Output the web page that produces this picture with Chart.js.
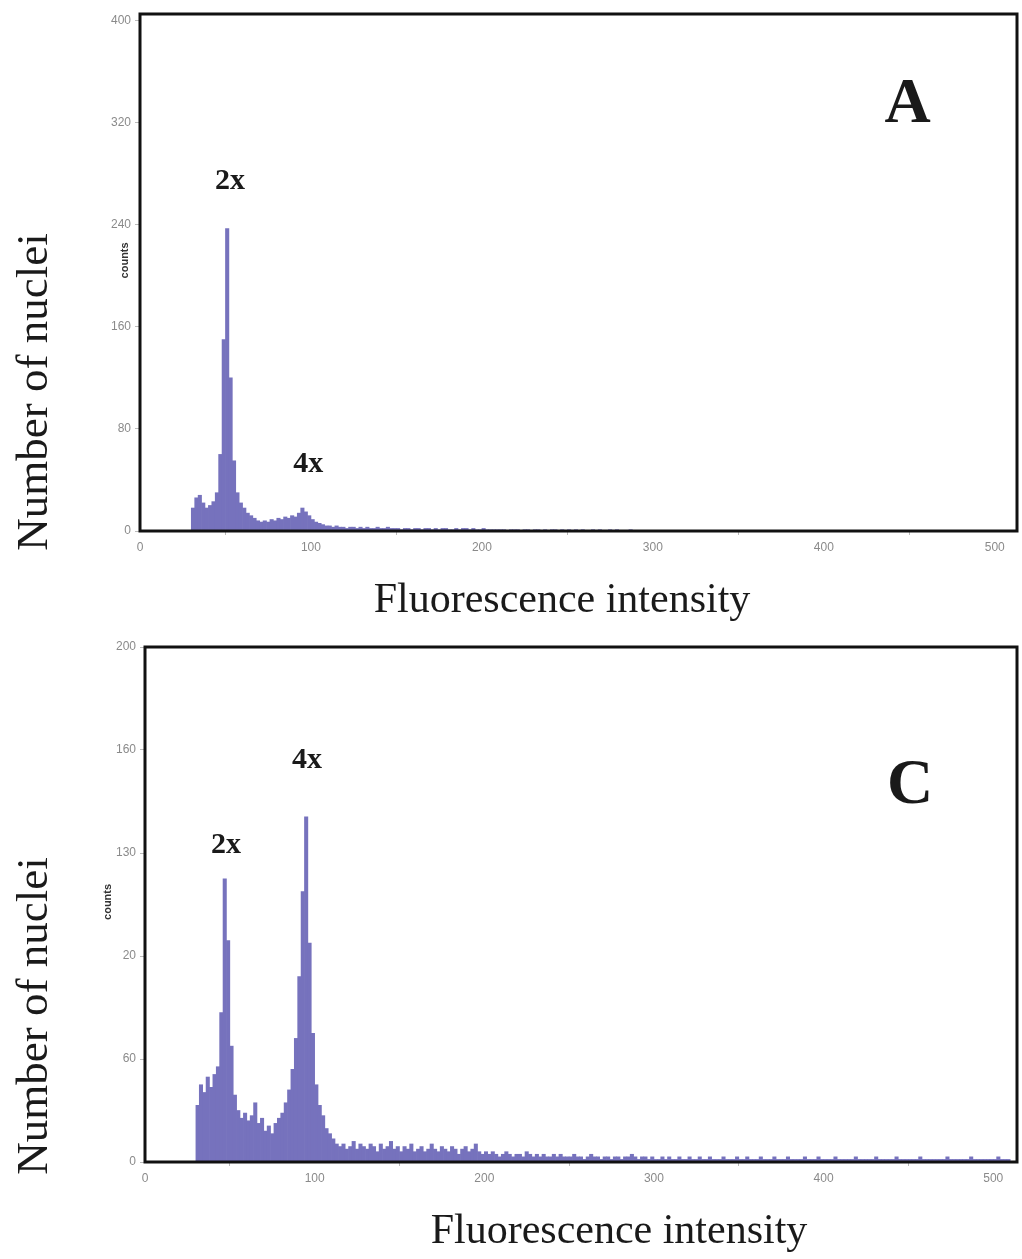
<!DOCTYPE html>
<html>
<head>
<meta charset="utf-8">
<script src="https://cdn.jsdelivr.net/npm/chart.js@4/dist/chart.umd.min.js"></script>
<style>
  body { margin: 0; background: #fff; }
  #wrap { position: relative; width: 1022px; height: 1259px; }
  canvas { position: absolute; left: 0; }
  #graficaA { top: 0; }
  #graficaC { top: 620px; }
</style>
</head>
<body>
<div id="wrap">
  <canvas id="graficaA" width="1022" height="625"></canvas>
  <canvas id="graficaC" width="1022" height="639"></canvas>
</div>
<script>
// canales del histograma: empiezan en 30, cada barra = 2 unidades de fluorescencia
const inicioCanal = 30;
const anchoCanal = 2;

// Panel A (conteos por canal)
const conteosA = [
  18, 26, 28, 22, 18, 20, 23, 30, 60, 150,
  237, 120, 55, 30, 22, 18, 14, 12, 10, 8,
  7, 8, 7, 9, 8, 10, 9, 11, 10, 12,
  11, 14, 18, 15, 12, 9, 7, 6, 5, 4,
  4, 3, 4, 3, 3, 2, 3, 3, 2, 3,
  2, 3, 2, 2, 3, 2, 2, 3, 2, 2,
  2, 1, 2, 2, 1, 2, 2, 1, 2, 2,
  1, 2, 1, 2, 2, 1, 1, 2, 1, 2,
  2, 1, 2, 1, 1, 2, 1, 1, 1, 1,
  1, 1, 0, 1, 1, 1, 0, 1, 1, 0,
  1, 1, 0, 1, 0, 1, 1, 0, 1, 0,
  1, 0, 1, 0, 1, 0, 0, 1, 0, 1,
  0, 0, 1, 0, 1, 0, 0, 0, 1, 0
];

// Panel C
const conteosC = [
  22, 30, 27, 33, 29, 34, 37, 58, 110, 86,
  45, 26, 20, 17, 19, 16, 18, 23, 15, 17,
  12, 14, 11, 15, 17, 19, 23, 28, 36, 48,
  72, 105, 134, 85, 50, 30, 22, 18, 13, 11,
  9, 7, 6, 7, 5, 6, 8, 5, 7, 6,
  5, 7, 6, 4, 7, 5, 6, 8, 5, 6,
  4, 6, 5, 7, 4, 5, 6, 4, 5, 7,
  5, 4, 6, 5, 4, 6, 5, 3, 5, 6,
  4, 5, 7, 4, 3, 4, 3, 4, 3, 2,
  3, 4, 3, 2, 3, 3, 2, 4, 3, 2,
  3, 2, 3, 2, 2, 3, 2, 3, 2, 2,
  2, 3, 2, 2, 1, 2, 3, 2, 2, 1,
  2, 2, 1, 2, 2, 1, 2, 2, 3, 2,
  1, 2, 2, 1, 2, 1, 1, 2, 1, 2,
  1, 1, 2, 1, 1, 2, 1, 1, 2, 1,
  1, 2, 1, 1, 1, 2, 1, 1, 1, 2,
  1, 1, 2, 1, 1, 1, 2, 1, 1, 1,
  2, 1, 1, 1, 2, 1, 1, 1, 1, 2,
  1, 1, 1, 2, 1, 1, 1, 1, 2, 1,
  1, 1, 1, 1, 2, 1, 1, 1, 1, 1,
  2, 1, 1, 1, 1, 1, 2, 1, 1, 1,
  1, 1, 1, 2, 1, 1, 1, 1, 1, 1,
  1, 2, 1, 1, 1, 1, 1, 1, 2, 1,
  1, 1, 1, 1, 1, 1, 2, 1, 1, 1
];

// ticks
const ticksX = [0, 100, 200, 300, 400, 500];
const ticksYA = [0, 80, 160, 240, 320, 400];
const ticksYC = [0, 40, 80, 120, 160, 200];
const etiquetasYC = ['0', '60', '20', '130', '160', '200']; // asi aparecen en la figura

const colorBarra = '#7672bd';
const grisTicks = '#8a8a8a';
const serif = '"Liberation Serif", "DejaVu Serif", serif';

function aPuntos(conteos) {
    return conteos.map((v, i) => ({ x: inicioCanal + anchoCanal * i + anchoCanal / 2, y: v }));
}

// marco negro + textos (2x, 4x, letra, titulos)
const marcoYTextos = {
    id: 'marcoYTextos',
    afterDatasetsDraw(chart, args, opts) {
        const { ctx, chartArea: ca, scales: { x, y } } = chart;
        ctx.save();
        ctx.lineWidth = 3;
        ctx.strokeStyle = '#111';
        ctx.strokeRect(ca.left, ca.top, ca.right - ca.left, ca.bottom - ca.top);

        ctx.fillStyle = '#1a1a1a';
        ctx.textAlign = 'center';
        ctx.textBaseline = 'middle';
        opts.etiquetas.forEach(e => {
            ctx.font = e.font;
            ctx.fillText(e.texto, x.getPixelForValue(e.x), y.getPixelForValue(e.y));
        });

        // "counts" chiquito
        ctx.save();
        ctx.font = 'bold 11px "Liberation Sans", Arial, sans-serif';
        ctx.fillStyle = '#333';
        ctx.translate(opts.counts.px, y.getPixelForValue(opts.counts.y));
        ctx.rotate(-Math.PI / 2);
        ctx.fillText('counts', 0, 0);
        ctx.restore();

        // titulo eje Y
        ctx.save();
        ctx.font = '45px ' + serif;
        ctx.translate(opts.tituloY.px, opts.tituloY.py);
        ctx.rotate(-Math.PI / 2);
        ctx.fillText('Number of nuclei', 0, 0);
        ctx.restore();

        // titulo eje X
        ctx.font = '42px ' + serif;
        ctx.fillText('Fluorescence intensity', opts.tituloX.px, opts.tituloX.py);
        ctx.restore();
    }
};

function crearGrafica(idCanvas, conteos, cfg) {
    return new Chart(document.getElementById(idCanvas), {
        type: 'bar',
        data: {
            datasets: [{
                data: aPuntos(conteos),
                backgroundColor: colorBarra,
                borderWidth: 0,
                barPercentage: 1.0,
                categoryPercentage: 1.0,
                grouped: false
            }]
        },
        options: {
            responsive: false,
            animation: false,
            layout: { padding: cfg.padding },
            scales: {
                x: {
                    type: 'linear',
                    min: 0,
                    max: cfg.maxX,
                    offset: false,
                    border: { display: false },
                    grid: { drawOnChartArea: false, tickLength: 4, color: '#bbb' },
                    ticks: {
                        color: grisTicks,
                        padding: 5,
                        maxRotation: 0,
                        font: { family: '"Liberation Sans", Arial, sans-serif', size: 12 }
                    },
                    afterBuildTicks: s => { s.ticks = ticksX.map(v => ({ value: v })); },
                    afterFit: s => { s.height = cfg.altoX; }
                },
                y: {
                    min: 0,
                    max: cfg.maxY,
                    border: { display: false },
                    grid: { drawOnChartArea: false, tickLength: 5, color: '#bbb' },
                    ticks: {
                        color: grisTicks,
                        padding: 4,
                        font: { family: '"Liberation Sans", Arial, sans-serif', size: 12 },
                        callback: (v, i) => cfg.etiquetasY[i]
                    },
                    afterBuildTicks: s => { s.ticks = cfg.ticksY.map(v => ({ value: v })); },
                    afterFit: s => { s.width = cfg.anchoY; }
                }
            },
            plugins: {
                legend: { display: false },
                tooltip: { enabled: false },
                marcoYTextos: cfg.textos
            }
        },
        plugins: [marcoYTextos]
    });
}

crearGrafica('graficaA', conteosA, {
    padding: { top: 14, right: 5, left: 16, bottom: 0 },
    maxX: 513,
    maxY: 405,
    altoX: 94,
    anchoY: 124,
    ticksY: ticksYA,
    etiquetasY: ticksYA.map(String),
    textos: {
        etiquetas: [
            { texto: 'A', x: 449, y: 333, font: 'bold 64px ' + serif },
            { texto: '2x', x: 52.7, y: 274, font: 'bold 30px ' + serif },
            { texto: '4x', x: 98.4, y: 52, font: 'bold 30px ' + serif }
        ],
        counts: { px: 125, y: 212 },
        tituloY: { px: 35, py: 392 },
        tituloX: { px: 562, py: 601 }
    }
});

crearGrafica('graficaC', conteosC, {
    padding: { top: 27, right: 5, left: 16, bottom: 0 },
    maxX: 514,
    maxY: 200,
    altoX: 97,
    anchoY: 129,
    ticksY: ticksYC,
    etiquetasY: etiquetasYC,
    textos: {
        etiquetas: [
            { texto: 'C', x: 451, y: 146, font: 'bold 64px ' + serif },
            { texto: '2x', x: 47.8, y: 123, font: 'bold 30px ' + serif },
            { texto: '4x', x: 95.5, y: 156, font: 'bold 30px ' + serif }
        ],
        counts: { px: 108, y: 101 },
        tituloY: { px: 35, py: 396 },
        tituloX: { px: 619, py: 612 }
    }
});
</script>
</body>
</html>
